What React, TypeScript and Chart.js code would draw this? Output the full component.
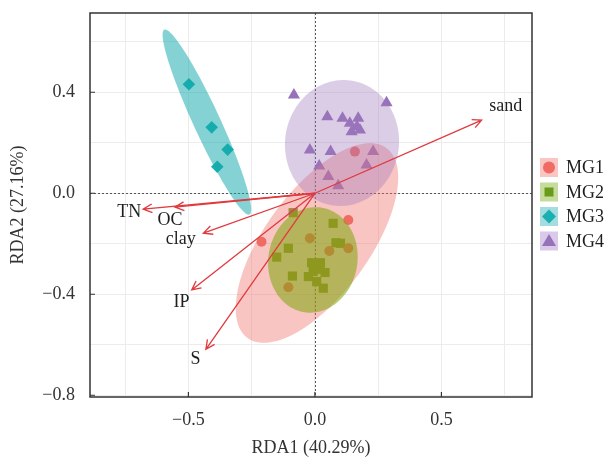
import React, { useEffect, useRef } from "react";
import { Chart, registerables } from "chart.js";

Chart.register(...registerables);

// ---------- data ----------
const groupNames = ["MG1", "MG2", "MG3", "MG4"];

const mg1X = [0.132, -0.211, -0.02, 0.057, 0.132, -0.105, 0.158];
const mg1Y = [-0.106, -0.192, -0.178, -0.229, -0.218, -0.372, 0.165];

const mg2X = [-0.086, 0.072, -0.105, -0.151, 0.083, 0.101, -0.013, 0.022, 0.04, -0.007, -0.026, -0.089, 0.007, 0.033, 0.02];
const mg2Y = [-0.077, -0.119, -0.218, -0.253, -0.196, -0.198, -0.275, -0.275, -0.314, -0.31, -0.33, -0.328, -0.35, -0.376, -0.301];

const mg3X = [-0.498, -0.408, -0.345, -0.386];
const mg3Y = [0.432, 0.261, 0.173, 0.105];

const mg4X = [-0.083, 0.283, 0.049, 0.109, 0.171, 0.138, 0.166, 0.145, 0.178, -0.02, 0.062, 0.23, 0.017, 0.204, 0.053, 0.092];
const mg4Y = [0.389, 0.359, 0.303, 0.297, 0.297, 0.277, 0.264, 0.244, 0.251, 0.171, 0.165, 0.165, 0.108, 0.112, 0.066, 0.03];

// confidence ellipses: centre, semi-axes, angle (deg, data space)
const ellipseCX = [0.008, -0.008, -0.427, 0.107];
const ellipseCY = [-0.197, -0.264, 0.282, 0.199];
const ellipseA = [0.466, 0.21, 0.403, 0.25];
const ellipseB = [0.206, 0.176, 0.053, 0.225];
const ellipseAngle = [53.9, 80, 114.7, 82];

// environmental vectors
const arrowNames = ["sand", "TN", "OC", "clay", "IP", "S"];
const arrowX = [0.659, -0.679, -0.553, -0.441, -0.487, -0.431];
const arrowY = [0.29, -0.063, -0.055, -0.158, -0.383, -0.618];
const arrowLabelX = [0.754, -0.734, -0.573, -0.53, -0.527, -0.472];
const arrowLabelY = [0.343, -0.077, -0.108, -0.182, -0.433, -0.657];

// axes
const xGridValues = [-0.75, -0.5, -0.25, 0, 0.25, 0.5, 0.75];
const yGridValues = [-0.8, -0.6, -0.4, -0.2, 0, 0.2, 0.4, 0.6];
const xTickLabels = [-0.5, 0, 0.5];
const yTickLabels = [-0.8, -0.4, 0, 0.4];

// ---------- styles ----------
const pointColors = ["#ef6b63", "#6a9a1a", "#1aafb0", "#9673b9"];
const pointStyles = ["circle", "rect", "rectRot", "triangle"];
const pointRadii = [5, 6.5, 6.3, 7];
const ellipseFills = [
  "rgba(240,110,105,0.4)",
  "rgba(128,165,10,0.55)",
  "rgba(20,168,172,0.52)",
  "rgba(160,120,190,0.37)",
];
const legendFills = ["#f9c6c4", "#c5dc9d", "#a4dcdf", "#dac9e8"];
const FONT = "'Liberation Serif', 'DejaVu Serif', serif";
const ARROW_COLOR = "#e0393e";

const fmt = (v: number) => {
  const s = Math.abs(v) < 1e-9 ? "0.0" : v.toFixed(1);
  return s.replace("-", "\u2212");
};
const isIn = (arr: number[], v: number) => arr.some((a) => Math.abs(a - v) < 1e-6);

const overlayPlugin = {
  id: "overlay",
  beforeDatasetsDraw(chart: any) {
    const { ctx, chartArea } = chart;
    const xs = chart.scales.x;
    const ys = chart.scales.y;
    ctx.save();
    ctx.beginPath();
    ctx.rect(chartArea.left, chartArea.top, chartArea.right - chartArea.left, chartArea.bottom - chartArea.top);
    ctx.clip();
    ctx.strokeStyle = "#555";
    ctx.lineWidth = 1;
    ctx.setLineDash([2, 2]);
    const x0 = Math.round(xs.getPixelForValue(0)) + 0.5;
    const y0 = Math.round(ys.getPixelForValue(0)) + 0.5;
    ctx.beginPath();
    ctx.moveTo(x0, chartArea.top);
    ctx.lineTo(x0, chartArea.bottom);
    ctx.moveTo(chartArea.left, y0);
    ctx.lineTo(chartArea.right, y0);
    ctx.stroke();
    ctx.restore();
  },
  afterDatasetsDraw(chart: any) {
    const { ctx } = chart;
    const xs = chart.scales.x;
    const ys = chart.scales.y;
    ctx.save();
    // ellipses
    for (let g = 0; g < groupNames.length; g++) {
      const th = (ellipseAngle[g] * Math.PI) / 180;
      ctx.beginPath();
      for (let i = 0; i <= 120; i++) {
        const p = (i / 120) * Math.PI * 2;
        const dx = ellipseA[g] * Math.cos(p) * Math.cos(th) - ellipseB[g] * Math.sin(p) * Math.sin(th);
        const dy = ellipseA[g] * Math.cos(p) * Math.sin(th) + ellipseB[g] * Math.sin(p) * Math.cos(th);
        const px = xs.getPixelForValue(ellipseCX[g] + dx);
        const py = ys.getPixelForValue(ellipseCY[g] + dy);
        if (i === 0) ctx.moveTo(px, py);
        else ctx.lineTo(px, py);
      }
      ctx.closePath();
      ctx.fillStyle = ellipseFills[g];
      ctx.fill();
    }
    // arrows
    const ox = xs.getPixelForValue(0);
    const oy = ys.getPixelForValue(0);
    ctx.strokeStyle = ARROW_COLOR;
    ctx.lineWidth = 1.3;
    for (let i = 0; i < arrowNames.length; i++) {
      const tx = xs.getPixelForValue(arrowX[i]);
      const ty = ys.getPixelForValue(arrowY[i]);
      const ang = Math.atan2(ty - oy, tx - ox);
      const hl = 10;
      const ha = (26 * Math.PI) / 180;
      ctx.beginPath();
      ctx.moveTo(ox, oy);
      ctx.lineTo(tx, ty);
      ctx.moveTo(tx - hl * Math.cos(ang - ha), ty - hl * Math.sin(ang - ha));
      ctx.lineTo(tx, ty);
      ctx.lineTo(tx - hl * Math.cos(ang + ha), ty - hl * Math.sin(ang + ha));
      ctx.stroke();
    }
    // labels
    ctx.fillStyle = "#1e1e1e";
    ctx.font = `18px ${FONT}`;
    ctx.textAlign = "center";
    ctx.textBaseline = "middle";
    for (let i = 0; i < arrowNames.length; i++) {
      ctx.fillText(arrowNames[i], xs.getPixelForValue(arrowLabelX[i]), ys.getPixelForValue(arrowLabelY[i]));
    }
    ctx.restore();
  },
  afterDraw(chart: any) {
    const { ctx, chartArea } = chart;
    const xs = chart.scales.x;
    const ys = chart.scales.y;
    ctx.save();
    // frame
    ctx.strokeStyle = "#333";
    ctx.lineWidth = 1.5;
    ctx.strokeRect(chartArea.left, chartArea.top, chartArea.right - chartArea.left, chartArea.bottom - chartArea.top);
    // inward tick marks
    ctx.lineWidth = 1.2;
    ctx.beginPath();
    xTickLabels.forEach((v) => {
      const px = xs.getPixelForValue(v);
      ctx.moveTo(px, chartArea.bottom);
      ctx.lineTo(px, chartArea.bottom - 5);
    });
    yTickLabels.forEach((v) => {
      const py = ys.getPixelForValue(v);
      ctx.moveTo(chartArea.left, py);
      ctx.lineTo(chartArea.left + 5, py);
    });
    ctx.stroke();
    // legend
    const lx = 540;
    const ly0 = 158;
    const step = 24.5;
    const bw = 18;
    const bh = 19;
    for (let g = 0; g < groupNames.length; g++) {
      const y = ly0 + g * step;
      ctx.fillStyle = legendFills[g];
      ctx.fillRect(lx, y, bw, bh);
      const cx = lx + bw / 2;
      const cy = y + bh / 2;
      ctx.fillStyle = pointColors[g];
      ctx.beginPath();
      if (g === 0) {
        ctx.arc(cx, cy, 6, 0, Math.PI * 2);
      } else if (g === 1) {
        ctx.rect(cx - 4.5, cy - 4.5, 9, 9);
      } else if (g === 2) {
        ctx.moveTo(cx, cy - 7);
        ctx.lineTo(cx + 7, cy);
        ctx.lineTo(cx, cy + 7);
        ctx.lineTo(cx - 7, cy);
        ctx.closePath();
      } else {
        ctx.moveTo(cx, cy - 7);
        ctx.lineTo(cx + 7, cy + 5);
        ctx.lineTo(cx - 7, cy + 5);
        ctx.closePath();
      }
      ctx.fill();
      ctx.fillStyle = "#1e1e1e";
      ctx.font = `18px ${FONT}`;
      ctx.textAlign = "left";
      ctx.textBaseline = "middle";
      ctx.fillText(groupNames[g], lx + 26, cy + 1);
    }
    ctx.restore();
  },
};

export default function App() {
  const ref = useRef<HTMLCanvasElement | null>(null);
  useEffect(() => {
    document.body.style.margin = "0";
    const canvas = ref.current;
    if (!canvas) return;
    const xsData = [mg1X, mg2X, mg3X, mg4X];
    const ysData = [mg1Y, mg2Y, mg3Y, mg4Y];
    const datasets = groupNames.map((name, g) => ({
      label: name,
      data: xsData[g].map((x, i) => ({ x, y: ysData[g][i] })),
      pointStyle: pointStyles[g] as any,
      pointRadius: pointRadii[g],
      backgroundColor: pointColors[g],
      borderWidth: 0,
      borderColor: pointColors[g],
    }));
    const chart = new Chart(canvas, {
      type: "scatter",
      data: { datasets },
      plugins: [overlayPlugin],
      options: {
        animation: false,
        responsive: false,
        maintainAspectRatio: false,
        layout: { padding: { top: 13, right: 75, left: 0, bottom: 0 } },
        plugins: { legend: { display: false }, tooltip: { enabled: false } },
        scales: {
          x: {
            type: "linear",
            min: -0.889,
            max: 0.858,
            afterBuildTicks: (s: any) => {
              s.ticks = xGridValues.map((v) => ({ value: v }));
            },
            afterFit: (s: any) => {
              s.height = 60;
              s.paddingLeft = 0;
              s.paddingRight = 0;
            },
            ticks: {
              autoSkip: false,
              maxRotation: 0,
              padding: 12,
              color: "#333",
              font: { family: FONT, size: 18 },
              callback: (v: any) => (isIn(xTickLabels, Number(v)) ? fmt(Number(v)) : ""),
            },
            grid: { color: "#ececec", lineWidth: 1, drawTicks: false },
            border: { display: false },
            title: {
              display: true,
              text: "RDA1 (40.29%)",
              color: "#333",
              font: { family: FONT, size: 18, lineHeight: 1 },
              padding: { top: 0, bottom: 0 },
            },
          },
          y: {
            type: "linear",
            min: -0.807,
            max: 0.714,
            afterBuildTicks: (s: any) => {
              s.ticks = yGridValues.map((v) => ({ value: v }));
            },
            afterFit: (s: any) => {
              s.width = 90;
              s.paddingTop = 0;
              s.paddingBottom = 0;
            },
            ticks: {
              autoSkip: false,
              padding: 15,
              color: "#333",
              font: { family: FONT, size: 18 },
              callback: (v: any) => (isIn(yTickLabels, Number(v)) ? fmt(Number(v)) : ""),
            },
            grid: { color: "#ececec", lineWidth: 1, drawTicks: false },
            border: { display: false },
            title: {
              display: true,
              text: "RDA2 (27.16%)",
              color: "#333",
              font: { family: FONT, size: 18, lineHeight: 1 },
              padding: { top: 9, bottom: 0 },
            },
          },
        },
      },
    });
    return () => chart.destroy();
  }, []);
  return (
    <div style={{ width: 607, height: 457 }}>
      <canvas ref={ref} width={607} height={457} />
    </div>
  );
}
